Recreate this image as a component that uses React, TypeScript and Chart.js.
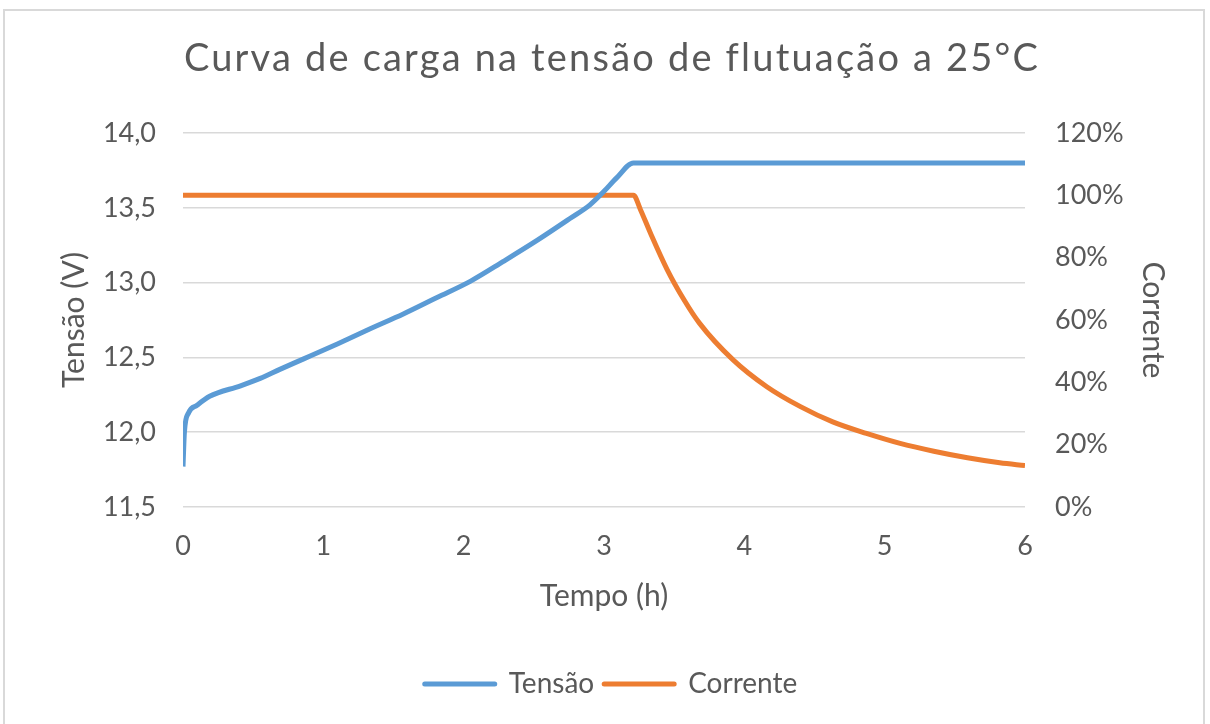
import React, { useEffect, useRef } from "react";
import { Chart, registerables } from "chart.js";

Chart.register(...registerables);

const chartTitle = "Curva de carga na tensão de flutuação a 25°C";
const xTitle = "Tempo (h)";
const leftTitle = "Tensão (V)";
const rightTitle = "Corrente";
const seriesNames = ["Tensão", "Corrente"];

const tensaoTime = [0, 0.01, 0.04, 0.1, 0.19, 0.41, 0.55, 0.69, 0.86, 1.1, 1.33, 1.57, 1.81, 2.05, 2.28, 2.52, 2.76, 2.9, 3.0, 3.09, 3.21, 6.0];
const tensaoValues = [11.77, 12.0, 12.13, 12.18, 12.24, 12.31, 12.36, 12.42, 12.49, 12.59, 12.69, 12.79, 12.9, 13.01, 13.14, 13.28, 13.43, 13.52, 13.61, 13.7, 13.8, 13.8];

const correnteTime = [0, 3.21, 3.26, 3.33, 3.45, 3.57, 3.68, 3.92, 4.16, 4.4, 4.63, 4.87, 5.11, 5.35, 5.59, 5.82, 6.0];
const correnteValues = [100, 100, 95.4, 88, 76.2, 66.5, 59, 47.2, 38.6, 32.2, 27.3, 23.6, 20.4, 17.9, 15.8, 14.2, 13.3];

const BLUE = "#5B9BD5";
const ORANGE = "#ED7D31";
const TEXT = "#595959";
const GRID = "#D9D9D9";
const FONT = "Lato, 'Open Sans', sans-serif";

const titlePlugin = {
  id: "spacedTitle",
  afterDraw(chart: any) {
    const ctx = chart.ctx;
    ctx.save();
    ctx.font = `38px ${FONT}`;
    try {
      (ctx as any).letterSpacing = "2.2px";
    } catch (e) {}
    ctx.fillStyle = TEXT;
    ctx.textAlign = "center";
    ctx.textBaseline = "alphabetic";
    ctx.fillText(chartTitle, 612, 71);
    ctx.restore();
  },
};

export default function App() {
  const ref = useRef<HTMLCanvasElement | null>(null);

  useEffect(() => {
    if (!ref.current) return;
    const chart = new Chart(ref.current, {
      type: "line",
      data: {
        datasets: [
          {
            label: seriesNames[0],
            data: tensaoTime.map((t, i) => ({ x: t, y: tensaoValues[i] })),
            borderColor: BLUE,
            backgroundColor: BLUE,
            borderWidth: 5,
            pointRadius: 0,
            yAxisID: "y",
            cubicInterpolationMode: "monotone",
          },
          {
            label: seriesNames[1],
            data: correnteTime.map((t, i) => ({ x: t, y: correnteValues[i] })),
            borderColor: ORANGE,
            backgroundColor: ORANGE,
            borderWidth: 5,
            pointRadius: 0,
            yAxisID: "y1",
            cubicInterpolationMode: "monotone",
          },
        ],
      },
      options: {
        animation: false,
        responsive: false,
        maintainAspectRatio: false,
        layout: { padding: { left: 40, right: 28, top: 133, bottom: 16 } },
        plugins: {
          title: { display: false },
          legend: {
            position: "bottom",
            labels: {
              color: TEXT,
              font: { family: FONT, size: 28 },
              usePointStyle: true,
              pointStyle: "line",
              pointStyleWidth: 70,
              padding: 10,
              generateLabels: (c: any) =>
                c.data.datasets.map((ds: any, i: number) => ({
                  text: ds.label,
                  strokeStyle: ds.borderColor,
                  fillStyle: ds.borderColor,
                  lineWidth: 5,
                  lineCap: "round",
                  pointStyle: "line",
                  fontColor: TEXT,
                  hidden: false,
                  datasetIndex: i,
                })),
            },
          },
          tooltip: { enabled: false },
        },
        scales: {
          x: {
            type: "linear",
            min: 0,
            max: 6,
            ticks: { stepSize: 1, color: TEXT, font: { family: FONT, size: 27 }, padding: 15 },
            grid: { display: false },
            border: { display: false },
            title: {
              display: true,
              text: xTitle,
              color: TEXT,
              font: { family: FONT, size: 30 },
              padding: { top: 0, bottom: 46 },
            },
            afterFit: (s: any) => {
              s.height = 153;
            },
          },
          y: {
            position: "left",
            min: 11.5,
            max: 14,
            ticks: {
              stepSize: 0.5,
              color: TEXT,
              font: { family: FONT, size: 27 },
              padding: 27,
              callback: (v: any) => Number(v).toFixed(1).replace(".", ","),
            },
            grid: { color: GRID, lineWidth: 1.5, drawTicks: false },
            border: { display: false },
            title: {
              display: true,
              text: leftTitle,
              color: TEXT,
              font: { family: FONT, size: 30 },
              padding: { top: 16, bottom: 0 },
            },
            afterFit: (s: any) => {
              s.width = 143;
            },
          },
          y1: {
            position: "right",
            min: 0,
            max: 120,
            ticks: {
              stepSize: 20,
              color: TEXT,
              font: { family: FONT, size: 27 },
              padding: 30,
              callback: (v: any) => `${v}%`,
            },
            grid: { display: false, drawTicks: false },
            border: { display: false },
            title: {
              display: true,
              text: rightTitle,
              color: TEXT,
              font: { family: FONT, size: 30 },
              padding: { top: 11, bottom: 0 },
            },
            afterFit: (s: any) => {
              s.width = 157;
            },
          },
        },
      },
      plugins: [titlePlugin],
    });
    return () => chart.destroy();
  }, []);

  return (
    <div style={{ position: "absolute", left: 0, top: 0, width: 1210, height: 724, overflow: "hidden", background: "#fff" }}>
      <canvas ref={ref} width={1210} height={724} style={{ position: "absolute", left: 0, top: 0 }} />
      <div
        style={{
          position: "absolute",
          left: 3,
          top: 9,
          width: 1202,
          height: 740,
          border: "2px solid #D9D9D9",
          boxSizing: "border-box",
          pointerEvents: "none",
        }}
      />
    </div>
  );
}
